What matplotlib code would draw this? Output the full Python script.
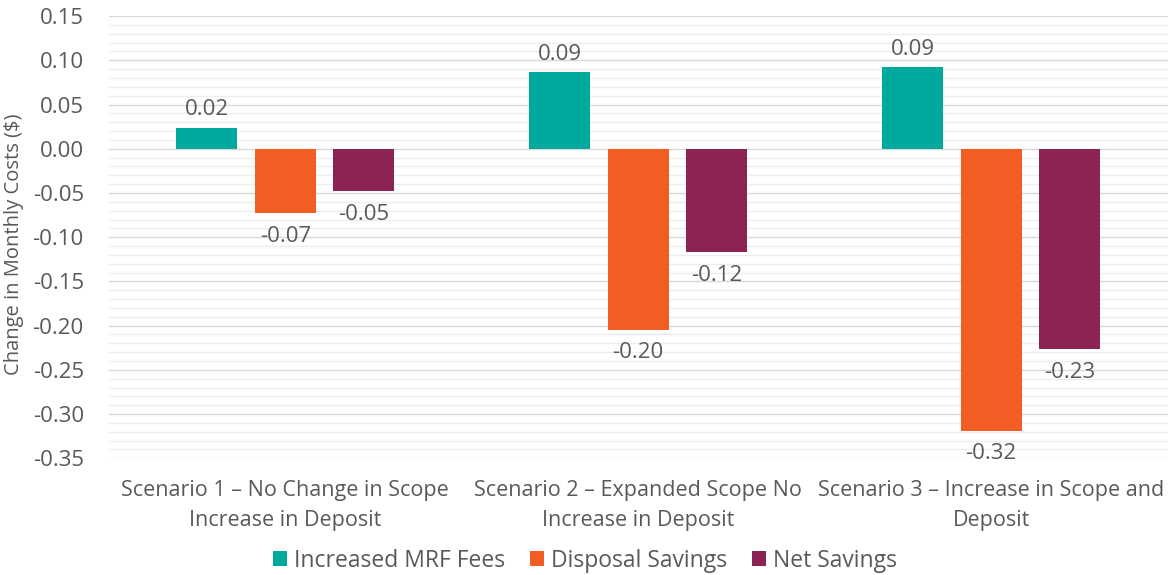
import numpy as np
import matplotlib.pyplot as plt
from matplotlib.ticker import MultipleLocator

plt.rcParams['font.family'] = ['Open Sans', 'DejaVu Sans']

# data
categories = ['Scenario 1 – No Change in Scope\nIncrease in Deposit',
              'Scenario 2 – Expanded Scope No\nIncrease in Deposit',
              'Scenario 3 – Increase in Scope and\nDeposit']
mrf_fees = [0.024, 0.087, 0.092]
disposal_savings = [-0.073, -0.205, -0.319]
net_savings = [-0.048, -0.117, -0.227]

series = [('Increased MRF Fees', mrf_fees, '#00A99D'),
          ('Disposal Savings', disposal_savings, '#F15D22'),
          ('Net Savings', net_savings, '#8C2355')]

txt = '#595959'
fig = plt.figure(figsize=(11.7, 5.75), dpi=100)
ax = fig.add_axes([0.093, 0.203, 0.905, 0.769])

x = np.arange(len(categories))
w = 0.173
step = 0.222
for i, (name, vals, col) in enumerate(series):
    pos = x + (i - 1) * step
    bars = ax.bar(pos, vals, width=w, color=col, label=name, zorder=3)
    for b, v in zip(bars, vals):
        if v >= 0:
            ax.text(b.get_x() + w / 2, v + 0.008, f'{v:.2f}', ha='center', va='bottom',
                    fontsize=16, color=txt)
        else:
            ax.text(b.get_x() + w / 2, v - 0.014, f'{v:.2f}', ha='center', va='top',
                    fontsize=16, color=txt)

ax.set_xlim(-0.5, 2.5)
ax.set_ylim(-0.35, 0.15)
ax.yaxis.set_major_locator(MultipleLocator(0.05))
ax.yaxis.set_minor_locator(MultipleLocator(0.01))
ax.yaxis.set_major_formatter(plt.FuncFormatter(lambda v, p: f'{v:.2f}'))
ax.grid(which='major', axis='y', color='#D9D9D9', lw=1, zorder=0)
ax.grid(which='minor', axis='y', color='#EDEDED', lw=1, zorder=0)
ax.tick_params(which='both', length=0, labelsize=16, labelcolor=txt)
ax.tick_params(axis='y', pad=18)
ax.tick_params(axis='x', pad=16)
ax.set_xticks(x)
ax.set_xticklabels(categories, fontsize=15.5, color=txt, linespacing=1.55)
for s in ax.spines.values():
    s.set_visible(False)
ax.set_ylabel('Change in Monthly Costs ($)', fontsize=14.5, color=txt)
ax.yaxis.set_label_coords(-0.080, 0.485)

fig.legend(loc='center', bbox_to_anchor=(0.5, 0.025), ncol=3, frameon=False,
           fontsize=16.5, labelcolor=txt, handlelength=0.6, handleheight=0.6,
           handletextpad=0.3, columnspacing=1.1)

fig.savefig('out.png', dpi=100)
